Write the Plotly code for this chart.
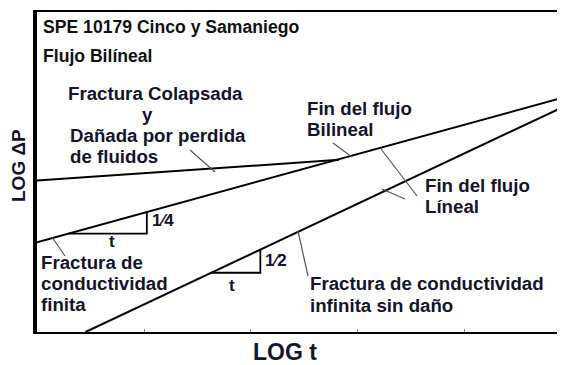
import plotly.graph_objects as go

# ---------------- data (log units: x = LOG t, y = LOG ΔP) ----------------
logt_collapsed = [0.0, 5.72]
logdp_collapsed = [2.87, 3.26]

logt_bilinear = [0.0, 10.0]
logdp_bilinear = [1.70, 4.45]

logt_linear = [0.92, 10.0]
logdp_linear = [0.0, 4.28]

# horizontal leg (start, end) of the slope triangles, in LOG t
tri_bilinear_t = [0.60, 2.08]
tri_linear_t = [3.30, 4.23]
slope_labels = ["1⁄4", "1⁄2"]

x_ticks = [2.03, 4.05, 6.07, 8.09]

title_lines = ["SPE 10179 Cinco y Samaniego", "Flujo Bilíneal"]
label_collapsed = ["Fractura Colapsada", "y", "Dañada por perdida", "de fluidos"]
label_end_bilinear = ["Fin del flujo", "Bilineal"]
label_end_linear = ["Fin del flujo", "Líneal"]
label_finite = ["Fractura de", "conductividad", "finita"]
label_infinite = ["Fractura de conductividad", "infinita sin daño"]
axis_x_title = "LOG t"
axis_y_title = "LOG ΔP"

# ---------------- frame geometry (page pixels; body has an 8px margin) ----------------
OFF = 8
PL, PR, PT, PB = 37, 565, 12, 332          # plot area edges on the page
W, H = 565 - OFF, 365 - OFF
ML, MR, MT, MB = PL - OFF, 0, PT - OFF, H - (PB - OFF)
XU = (PR - PL) / 10.0                      # pixels per log unit
YMAX = (PB - PT) / XU


def dx(px):
    return (px - PL) / XU


def dy(py):
    return (PB - py) / XU


def paper_x(px):
    return (px - PL) / (PR - PL)


def paper_y(py):
    return (PB - py) / (PB - PT)


def on_line(xs, ys, x):
    return ys[0] + (ys[1] - ys[0]) * (x - xs[0]) / (xs[1] - xs[0])


# leader lines (page pixel endpoints)
pointer_px = [
    ((190, 150), (215, 172)),   # collapsed
    ((333, 143), (352, 157)),   # end bilinear
    ((417, 196), (381, 149)),   # end linear (to bilinear line)
    ((405, 199), (382, 189)),   # end linear (to linear line)
    ((52, 237), (65, 256)),     # finite
    ((298, 231), (308, 276)),   # infinite
]

fig = go.Figure()

line_style = dict(color="black", width=2)
for xs, ys in [(logt_collapsed, logdp_collapsed),
               (logt_bilinear, logdp_bilinear),
               (logt_linear, logdp_linear)]:
    fig.add_trace(go.Scatter(x=xs, y=ys, mode="lines", line=line_style,
                             hoverinfo="skip", showlegend=False))

# slope triangles
for legs, (lx, ly) in [(tri_bilinear_t, (logt_bilinear, logdp_bilinear)),
                       (tri_linear_t, (logt_linear, logdp_linear))]:
    t0, t1 = legs
    y0 = on_line(lx, ly, t0)
    y1 = on_line(lx, ly, t1)
    fig.add_trace(go.Scatter(x=[t0, t1, t1], y=[y0, y0, y1], mode="lines",
                             line=dict(color="black", width=1.8),
                             hoverinfo="skip", showlegend=False))

# leader lines
for (p0, p1) in pointer_px:
    fig.add_trace(go.Scatter(x=[dx(p0[0]), dx(p1[0])], y=[dy(p0[1]), dy(p1[1])],
                             mode="lines", line=dict(color="#555555", width=1.2),
                             hoverinfo="skip", showlegend=False))

TXT = "#14142a"
SANS = "Liberation Sans, Arial, sans-serif"
BODY = dict(family=SANS, size=18.7, color=TXT, weight="bold")
TITLE = dict(family=SANS, size=17.6, color="#111111", weight="bold")

annotations = []


def add_lines(lines, left_px, baselines, font, anchor="left", pad=2):
    for text, b in zip(lines, baselines):
        annotations.append(dict(
            x=paper_x(left_px - (pad if anchor == "left" else 0)),
            y=paper_y(b - 0.35 * font["size"]),
            xref="paper", yref="paper", text=text, showarrow=False,
            xanchor=anchor, yanchor="middle", font=font))


add_lines(title_lines, 43, [33, 62], TITLE)
add_lines([label_collapsed[0]], 68, [100], BODY)
add_lines([label_collapsed[1]], 147, [121], BODY, anchor="center")
add_lines(label_collapsed[2:], 70, [142, 163], BODY)
add_lines(label_end_bilinear, 307, [115, 136], BODY)
add_lines(label_end_linear, 425, [192, 213], BODY)
add_lines(label_finite, 41, [269, 290, 311], BODY)
add_lines(label_infinite, 310, [290, 312], BODY)

FRAC = dict(family=SANS, size=17, color=TXT, weight="bold")
for text, (px, py) in [(slope_labels[0], (163, 220)), (slope_labels[1], (276, 260)),
                       ("t", (112, 241)), ("t", (232, 285))]:
    annotations.append(dict(x=paper_x(px), y=paper_y(py), xref="paper", yref="paper",
                            text=text, showarrow=False, font=FRAC,
                            xanchor="center", yanchor="middle"))

# axis titles
annotations.append(dict(x=paper_x(285), y=paper_y(352), xref="paper", yref="paper",
                        text=axis_x_title, showarrow=False,
                        xanchor="center", yanchor="middle",
                        font=dict(family=SANS, size=23, color=TXT, weight="bold")))
annotations.append(dict(x=paper_x(18), y=paper_y(166), xref="paper", yref="paper",
                        text=axis_y_title, showarrow=False, textangle=-90,
                        xanchor="center", yanchor="middle",
                        font=dict(family=SANS, size=19, color=TXT, weight="bold")))

fig.update_layout(
    width=W, height=H,
    margin=dict(l=ML, r=MR, t=MT, b=MB, pad=0),
    paper_bgcolor="white", plot_bgcolor="white",
    showlegend=False,
    annotations=annotations,
    xaxis=dict(range=[0, 10], showgrid=False, zeroline=False,
               showline=True, linecolor="black", linewidth=2, mirror=True,
               tickvals=x_ticks, ticks="inside", ticklen=3, tickcolor="#888888",
               showticklabels=False, fixedrange=True),
    yaxis=dict(range=[0, YMAX], showgrid=False, zeroline=False,
               showline=True, linecolor="black", linewidth=4, mirror=False,
               ticks="", showticklabels=False, fixedrange=True),
)

fig.write_html("out.html", config={"displayModeBar": False})
